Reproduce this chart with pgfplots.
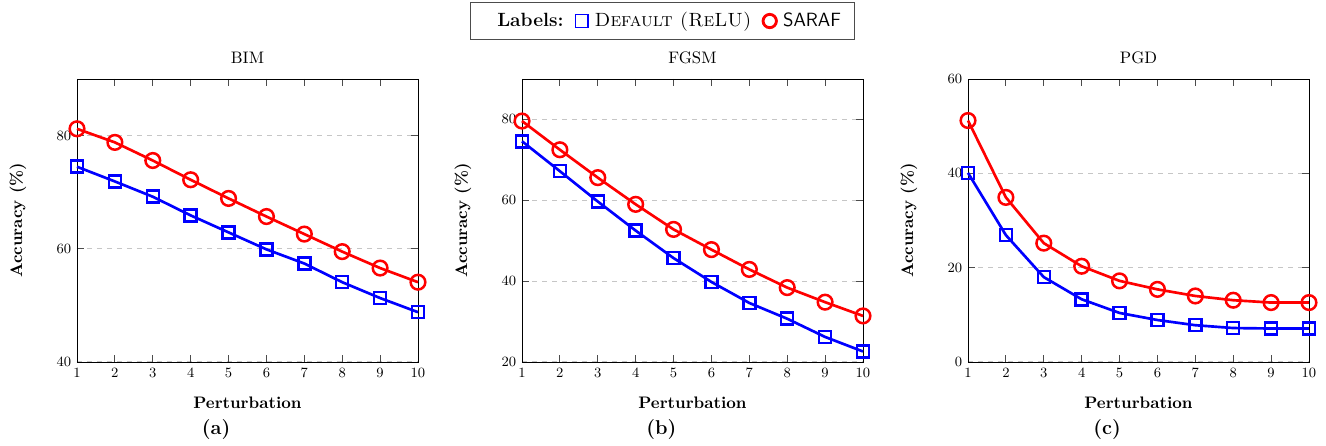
\documentclass[border=0pt]{standalone}
\usepackage{pgfplots}
\pgfplotsset{compat=1.18}
\pgfplotsset{
  mystyle/.style={
    scale only axis, width=204.6pt, height=169.8pt, clip=false,
    xmin=1, xmax=10, xtick={1,...,10},
    ymajorgrids, grid style={dashed, gray!45, line width=0.6pt},
    tick style={gray!60!black, line width=0.5pt},
    tick label style={font=\fontsize{8.5}{10}\selectfont},
    xlabel={\textbf{Perturbation}}, ylabel={\textbf{Accuracy (\%)}},
    xlabel style={at={(axis description cs:0.5,-0.145)}, anchor=center},
    ylabel style={at={(axis description cs:-0.173,0.5)}, anchor=center},
    /pgf/number format/assume math mode=true,
  },
  bser/.style={blue, line width=1.6pt, mark=square, mark size=3.6pt, mark options={solid, line width=1.5pt}},
  rser/.style={red, line width=1.6pt, mark=o, mark size=4.4pt, mark options={solid, line width=1.5pt}},
}
\begin{document}
\begin{tikzpicture}
\useasboundingbox (-46.2pt,-50.4pt) rectangle (749.4pt,217.2pt);
% (a) BIM
\begin{axis}[mystyle, at={(0,0)}, anchor=south west, ymin=40, ymax=90, ytick={40,60,80}]
\addplot[bser, forget plot] coordinates {(1,74.5)(2,71.9)(3,69.2)(4,65.9)(5,62.9)(6,59.9)(7,57.4)(8,54.1)(9,51.3)(10,48.8)};
\addplot[rser, forget plot] coordinates {(1,81.2)(2,78.8)(3,75.6)(4,72.2)(5,68.9)(6,65.7)(7,62.6)(8,59.5)(9,56.6)(10,54.1)};
\node at (axis description cs:0.5,1.074) {BIM};
\node[font=\large\bfseries] at (axis description cs:0.408,-0.24) {(a)};
\end{axis}
% (b) FGSM
\begin{axis}[mystyle, at={(267pt,0)}, anchor=south west, ymin=20, ymax=90, ytick={20,40,60,80},
  legend style={at={(axis description cs:0.412,1.138)}, anchor=south, legend columns=-1, draw=gray!60!black, line width=0.6pt,
    font=\fontsize{11.5}{14}\selectfont, inner xsep=6pt, inner ysep=4pt,
    /tikz/every even column/.append style={column sep=5pt}}]
\addlegendimage{empty legend}\addlegendentry{\hspace{8pt}\textbf{Labels:}}
\addlegendimage{blue, only marks, mark=square, mark size=3.8pt, mark options={line width=0.8pt}}\addlegendentry{\hspace{2pt}\textsc{Default (ReLU)}}
\addlegendimage{red, only marks, mark=o, mark size=4pt, mark options={line width=1.7pt}}\addlegendentry{\hspace{2pt}\textsf{SARAF}}
\addplot[bser, forget plot] coordinates {(1,74.6)(2,67.2)(3,59.7)(4,52.5)(5,45.7)(6,39.8)(7,34.6)(8,30.7)(9,26.2)(10,22.6)};
\addplot[rser, forget plot] coordinates {(1,79.6)(2,72.5)(3,65.6)(4,59.0)(5,52.8)(6,47.8)(7,42.9)(8,38.4)(9,34.8)(10,31.4)};
\node at (axis description cs:0.5,1.074) {FGSM};
\node[font=\large\bfseries] at (axis description cs:0.409,-0.24) {(b)};
\end{axis}
% (c) PGD
\begin{axis}[mystyle, at={(534.6pt,0)}, anchor=south west, ymin=0, ymax=60, ytick={0,20,40,60}]
\addplot[bser, forget plot] coordinates {(1,40.1)(2,26.9)(3,18.0)(4,13.3)(5,10.4)(6,8.9)(7,7.8)(8,7.2)(9,7.1)(10,7.1)};
\addplot[rser, forget plot] coordinates {(1,51.2)(2,34.9)(3,25.2)(4,20.3)(5,17.2)(6,15.4)(7,14.0)(8,13.1)(9,12.6)(10,12.6)};
\node at (axis description cs:0.5,1.074) {PGD};
\node[font=\large\bfseries] at (axis description cs:0.408,-0.24) {(c)};
\end{axis}
\end{tikzpicture}
\end{document}
